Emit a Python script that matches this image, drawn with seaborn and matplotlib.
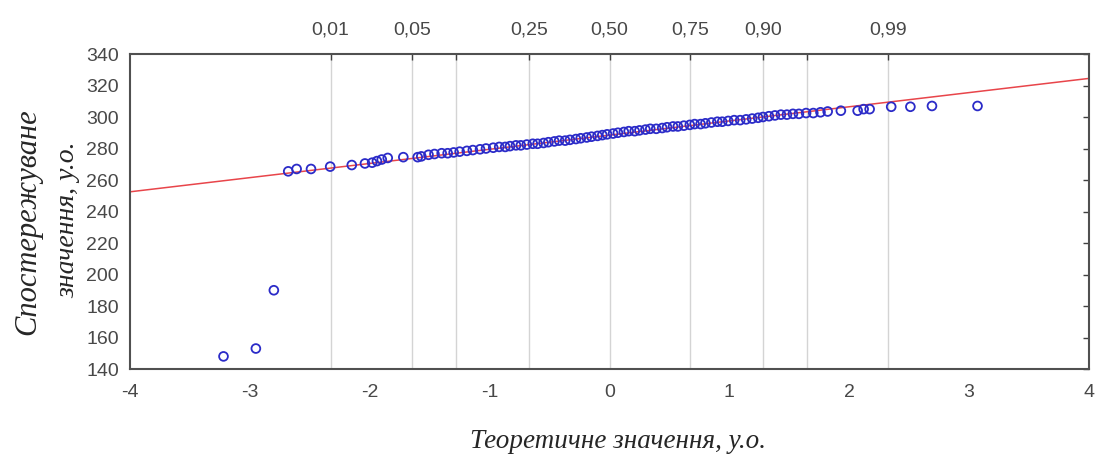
import numpy as np
import pandas as pd
import matplotlib
matplotlib.use("Agg")
import matplotlib.pyplot as plt
import seaborn as sns

# ---- data ----
theoretical = [-3.22, -2.95, -2.80, -2.68, -2.61, -2.49, -2.33, -2.15, -2.04, -1.98,
               -1.94, -1.90, -1.85, -1.72, -1.60, -1.57, -1.51, -1.46, -1.40, -1.35,
               -1.30, -1.25, -1.19, -1.14, -1.08, -1.03, -0.97, -0.92, -0.87, -0.83,
               -0.78, -0.74, -0.69, -0.64, -0.60, -0.55, -0.51, -0.46, -0.42, -0.37,
               -0.33, -0.28, -0.24, -0.19, -0.15, -0.10, -0.06, -0.02, 0.03, 0.07,
               0.12, 0.16, 0.21, 0.25, 0.30, 0.34, 0.39, 0.44, 0.48, 0.53,
               0.57, 0.62, 0.67, 0.71, 0.76, 0.80, 0.85, 0.90, 0.94, 0.99,
               1.04, 1.09, 1.14, 1.19, 1.24, 1.28, 1.33, 1.38, 1.43, 1.48,
               1.53, 1.58, 1.64, 1.70, 1.76, 1.82, 1.93, 2.07, 2.12, 2.17,
               2.35, 2.51, 2.69, 3.07]
observed = [148, 153, 190, 265.5, 267, 267, 268.5, 269.5, 270.5, 271,
            272, 273, 274, 274.5, 274.5, 275, 276, 276.5, 277, 277,
            277.5, 278, 278.5, 279, 279.5, 280, 280.5, 281, 281, 281.5,
            282, 282, 282.5, 283, 283, 283.5, 284, 284.5, 285, 285,
            285.5, 286, 286.5, 287, 287.5, 288, 288.5, 289, 289.5, 290,
            290.5, 291, 291, 291.5, 292, 292.5, 292.5, 293, 293.5, 294,
            294, 294.5, 295, 295.5, 295.5, 296, 296.5, 297, 297, 297.5,
            298, 298, 298.5, 299, 299.5, 300, 300.5, 301, 301.5, 301.5,
            302, 302, 302.5, 302.5, 303, 303.5, 304, 304, 305, 305,
            306.5, 306.5, 307, 307]
line_x = [-4, 4]
line_y = [252.5, 324.5]
quantile_z = [-2.326, -1.645, -1.282, -0.674, 0.0, 0.674, 1.282, 1.645, 2.326]
quantile_labels = ["0,01", "0,05", "", "0,25", "0,50", "0,75", "0,90", "", "0,99"]
x_ticks = [-4, -3, -2, -1, 0, 1, 2, 3, 4]
y_ticks = [140, 160, 180, 200, 220, 240, 260, 280, 300, 320, 340]

sns.set_style("white")
plt.rcParams["font.family"] = ["Liberation Sans", "DejaVu Sans"]

fig = plt.figure(figsize=(11.06, 4.57), dpi=100)
ax = fig.add_axes([130 / 1106, 1 - 369 / 457, 959 / 1106, 315 / 457])

for z in quantile_z:
    ax.axvline(z, color="#d4d4d4", lw=1.0, zorder=0)

df = pd.DataFrame({"x": theoretical, "y": observed})
sns.lineplot(x=line_x, y=line_y, ax=ax, color="#e8454a", lw=1.1, zorder=2)
sns.scatterplot(data=df, x="x", y="y", ax=ax, marker="o", s=40,
                facecolors="none", edgecolor="#2b2bc8", linewidth=1.3, zorder=3)

ax.set_xlim(-4, 4)
ax.set_ylim(140, 340)
ax.set_xticks(x_ticks)
ax.set_xticklabels([str(v) for v in x_ticks])
ax.set_yticks(y_ticks)
ax.set_yticklabels([str(v) for v in y_ticks])
ax.tick_params(axis="both", direction="in", length=4, width=1, color="#404040",
               labelsize=14, labelcolor="#484848")
ax.tick_params(axis="x", pad=11)
ax.tick_params(axis="y", pad=8, right=True)
ax.set_xlabel("")
ax.set_ylabel("")
for s in ax.spines.values():
    s.set_color("#505050")
    s.set_linewidth(1.5)

top = ax.secondary_xaxis("top")
top.set_xticks(quantile_z)
top.set_xticklabels(quantile_labels)
top.tick_params(direction="in", length=4, width=1, color="#404040",
                labelsize=14, labelcolor="#484848", pad=11)
top.spines["top"].set_visible(False)

serif = ["Liberation Serif", "DejaVu Serif"]
fig.text(0.5 * (130 + 1089) / 1106 + 0.008, 1 - 441 / 457, "Теоретичне значення, у.о.",
         family=serif, style="italic", fontsize=19.5, ha="center", va="center")
fig.text(28 / 1106, 1 - 222 / 457, "Спостережуване",
         family=serif, style="italic", fontsize=22, ha="center", va="center", rotation=90)
fig.text(68 / 1106, 1 - 220 / 457, "значення, у.о.",
         family=serif, style="italic", fontsize=20, ha="center", va="center", rotation=90)

fig.savefig("out.png", dpi=100)
